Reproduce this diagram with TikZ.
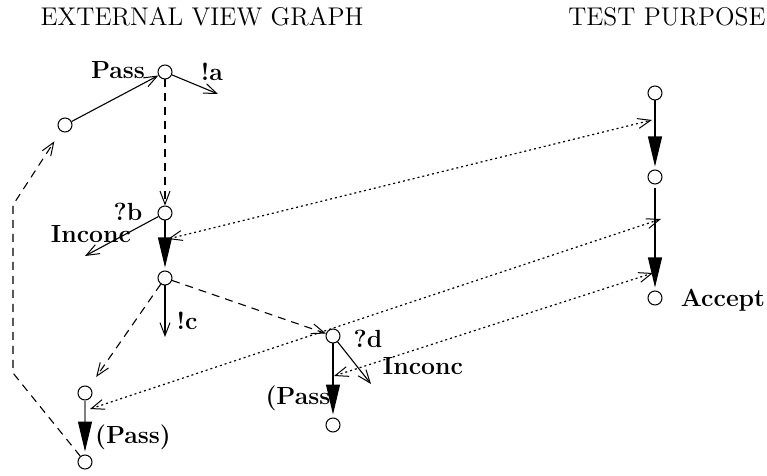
\documentclass[tikz,border=0pt]{standalone}
\usetikzlibrary{arrows.meta}
\begin{document}
\begin{tikzpicture}[x=0.5pt,y=-0.5pt,
  st/.style={circle,draw,minimum size=7pt,inner sep=0pt,line width=0.5pt},
  lbl/.style={font=\fontsize{12.4}{14}\selectfont\bfseries,inner sep=0pt},
  ttl/.style={font=\fontsize{12.8}{15}\selectfont,inner sep=0pt},
  opn/.style={line width=0.55pt,-{Straight Barb[length=6.5pt,width=5pt,line width=0.5pt]}},
  fil/.style={line width=0.55pt,-{Triangle[length=15pt,width=7pt,color=black]},shorten >=1.5pt},
  dsh/.style={opn,dash pattern=on 4pt off 3pt},
  dot/.style={line width=0.6pt,dash pattern=on 1pt off 1.5pt,
    {Straight Barb[length=6.5pt,width=5pt,line width=0.5pt]}-{Straight Barb[length=6.5pt,width=5pt,line width=0.5pt]}}]
\useasboundingbox (0,0) rectangle (767,476);

\node[ttl] (t1) at (202,17) {EXTERNAL VIEW GRAPH};
\node[ttl] (t2) at (667,17) {TEST PURPOSE};

% external view graph states
\node[st] (n0) at (65,125) {};
\node[st] (n1) at (165,72) {};
\node[st] (n2) at (165,213) {};
\node[st] (n3) at (165,278) {};
\node[st] (n4) at (333,336) {};
\node[st] (n5) at (333,425) {};
\node[st] (n6) at (85,393) {};
\node[st] (n7) at (85,462) {};

% test purpose states
\node[st] (p1) at (655,93) {};
\node[st] (p2) at (655,177) {};
\node[st] (p3) at (655,298) {};

% free ends
\coordinate (ea) at (218,94);
\coordinate (eb) at (85,256);
\coordinate (ec) at (165,337);
\coordinate (ed) at (371,384);
\coordinate (k1) at (13,373);
\coordinate (k2) at (13,205);

% labels
\node[lbl] (lpass) at (118,70) {Pass};
\node[lbl] (la) at (212,72) {!a};
\node[lbl] (lb) at (128,212) {?b};
\node[lbl] (linc1) at (91,234) {Inconc};
\node[lbl] (lc) at (187,321) {!c};
\node[lbl] (ld) at (368,339) {?d};
\node[lbl] (linc2) at (423,366) {Inconc};
\node[lbl] (lp2) at (298,398) {(Pass};
\node[lbl] (lp3) at (133,437) {(Pass)};
\node[lbl] (lacc) at (723,300) {Accept};

% edges
\draw[opn] (n0) -- (n1);
\draw[opn] (n1) -- (ea);
\draw[dsh] (n1) -- (n2);
\draw[opn] (n2) -- (eb);
\draw[fil] (n2) -- (n3);
\draw[opn] (n3) -- (ec);
\draw[dsh] (n3) -- (n4);
\draw[dsh,shorten >=6pt] (n3) -- (n6);
\draw[dsh,shorten >=6pt] (n7) -- (k1) -- (k2) -- (n0);
\draw[fil,draw=gray] (n6) -- (n7);
\draw[fil] (n4) -- (n5);
\draw[opn] (n4) -- (ed);
\draw[fil] (p1) -- (p2);
\draw[fil,shorten <=2pt] (p2) -- (p3);

% dotted correspondences
\coordinate (d1l) at (168,239);
\coordinate (d1r) at (652,120);
\coordinate (d2l) at (90,409);
\coordinate (d2r) at (661,219);
\coordinate (d3l) at (334,376);
\coordinate (d3r) at (653,273);
\draw[dot] (d1l) -- (d1r);
\draw[dot] (d2l) -- (d2r);
\draw[dot] (d3l) -- (d3r);
\end{tikzpicture}
\end{document}
